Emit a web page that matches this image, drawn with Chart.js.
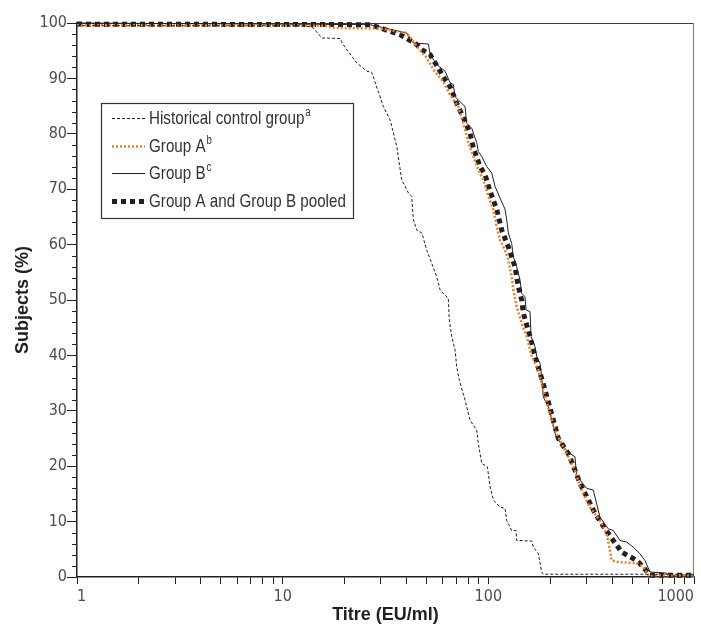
<!DOCTYPE html>
<html>
<head>
<meta charset="utf-8">
<script src="https://cdn.jsdelivr.net/npm/chart.js@4.4.0/dist/chart.umd.min.js"></script>
<style>
  body { margin: 0; background: #fff; }
  #wrap { width: 701px; height: 626px; }
</style>
</head>
<body>
<div id="wrap"><canvas id="chart"></canvas></div>
<script>
// Reverse cumulative distribution of titres (x = titre EU/ml, y = % of subjects)
const histTitre = [1, 13, 14.1, 15.5, 19.0, 19.7, 22.9, 25.7, 27.1, 28.2, 30.9, 33.3, 35.9, 37.9, 40.9, 42.4, 43.2, 44.9, 47.5, 50.2, 53.1, 56.1, 58.3, 61.6, 63.9, 64.6, 66.4, 68.9, 70.2, 72.3, 77.1, 81.5, 87.8, 89.4, 92.9, 98.9, 102, 105.8, 114, 120.5, 122.8, 129.9, 136.3, 137.4, 162.5, 165.5, 175, 181.7, 185, 1000];
const histPct = [99.5, 99.5, 99.1, 97.3, 97.2, 96.1, 92.8, 91.3, 91.1, 89.2, 84.9, 82.5, 77.7, 71.7, 69.3, 68.7, 64.5, 62.6, 62.1, 59.0, 56.6, 54.2, 51.8, 50.9, 50.3, 46.4, 43.4, 41.0, 37.9, 35.5, 31.9, 28.3, 26.5, 24.1, 20.5, 19.9, 16.3, 13.9, 12.6, 12.4, 10.2, 8.4, 8.4, 6.6, 6.5, 5.4, 4.2, 0.9, 0.5, 0.5];

const groupATitre = [1, 16, 18, 30, 40.1, 44.9, 50.2, 54.0, 60.4, 65.2, 71.5, 75.6, 80.0, 84.6, 89.4, 94.6, 100, 105.8, 109.9, 114, 120.5, 125.1, 129.9, 132.3, 137.4, 145.3, 153.7, 162.5, 175, 185, 195.7, 211, 231.4, 249.5, 263.8, 279, 312, 349, 376, 390.4, 397.9, 428.2, 526, 566.3, 599, 1000];
const groupAPct = [99.6, 99.5, 99.1, 99.0, 98.2, 95.8, 93.7, 91.6, 89.4, 87.0, 84.9, 81.9, 78.4, 75.9, 73.5, 71.7, 68.7, 66.3, 63.2, 60.8, 59.0, 57.2, 54.2, 51.8, 48.8, 45.8, 43.4, 39.8, 37.4, 33.7, 30.7, 26.5, 23.5, 21.1, 19.3, 16.3, 12.6, 10.2, 7.8, 4.8, 3.0, 2.7, 2.5, 1.8, 0.3, 0.3];

const groupBTitre = [1, 26.6, 40.1, 43.2, 51.1, 52.1, 56.1, 61.6, 65.2, 67.6, 68.9, 71.5, 77.1, 78.5, 83.1, 87.8, 89.4, 92.9, 98.2, 103.9, 107.8, 114, 120.5, 122.8, 125.1, 129.9, 132.3, 137.4, 142.6, 145.3, 150.8, 152.5, 159.5, 161.3, 168.6, 171.9, 178.3, 181.7, 185, 195.7, 211, 215, 231.4, 249.5, 263.8, 268.9, 279, 300.8, 323.7, 349, 382.9, 405, 436.4, 470.6, 506.5, 545.9, 577.4, 610.6, 736, 749, 1000];
const groupBPct = [100, 99.7, 98.2, 96.4, 96.2, 94.3, 92.5, 91.3, 89.2, 88.9, 86.7, 86.1, 84.9, 81.9, 81.0, 78.4, 76.8, 75.9, 74.1, 72.9, 70.5, 68.4, 66.4, 64.5, 62.1, 60.2, 57.8, 56.0, 53.6, 51.2, 50.6, 48.2, 47.9, 43.4, 41.6, 39.8, 38.6, 36.1, 32.5, 30.7, 25.9, 25.3, 23.5, 22.3, 21.7, 18.1, 17.5, 16.0, 15.7, 10.8, 8.7, 8.4, 6.6, 6.3, 5.4, 4.2, 3.0, 0.9, 0.7, 0.3, 0.3];

const pooledTitre = [1, 26.6, 33.3, 37.2, 40.9, 44.0, 47.5, 52.1, 55.1, 58.3, 61.6, 65.2, 70.2, 77.1, 81.5, 84.6, 91.1, 96.4, 102, 109.9, 116.2, 125.1, 134.8, 139.9, 145.3, 148.0, 159.5, 168.6, 178.3, 185, 195.7, 207, 218.9, 244.7, 263.8, 279, 300.8, 329.9, 369, 405, 444.8, 526, 566.3, 610.6, 1000];
const pooledPct = [99.8, 99.7, 98.5, 97.9, 97.0, 96.4, 95.2, 94.3, 92.8, 91.3, 89.8, 88.5, 85.5, 82.2, 80.1, 77.4, 74.1, 72.6, 69.6, 66.3, 62.6, 59.6, 56.0, 52.4, 50.0, 47.6, 43.4, 39.8, 36.8, 34.9, 31.6, 28.3, 25.0, 22.3, 19.3, 16.9, 14.5, 11.5, 8.7, 6.6, 4.5, 3.0, 1.8, 0.3, 0.3];

const seriesLabels = ["Historical control group", "Group A", "Group B", "Group A and Group B pooled"];
const seriesNotes = ["a", "b", "c", ""];
const xTickLabels = [1, 10, 100, 1000];
const yTickStep = 10;
const yMinorStep = 2;

const LEGENDFONT = "'Liberation Sans', Arial, sans-serif";
const TICKFONT = "'DejaVu Sans Condensed', 'DejaVu Sans', sans-serif";
const BOLDFONT = "'Liberation Sans', Arial, sans-serif";

function zip(xs, ys) {
  return xs.map((x, i) => ({ x: x, y: ys[i] }));
}

// log axis ticks 1..9, 10..90, 100..900, 1000
const xTicks = [];
for (let d = 1; d < 1000; d *= 10) {
  for (let k = 1; k <= 9; k++) xTicks.push(k * d);
}
xTicks.push(1000);

// top/right frame lines and the short minor ticks on the y axis
const frame = {
  id: "frame",
  beforeDatasetsDraw(chart) {
    const { ctx, chartArea: a, scales } = chart;
    ctx.save();
    ctx.lineWidth = 1.2;
    ctx.strokeStyle = "#3a3a3a";
    ctx.beginPath();
    ctx.moveTo(a.left, a.top + 0.5);
    ctx.lineTo(a.right, a.top + 0.5);
    ctx.stroke();
    ctx.strokeStyle = "#8a8a8a";
    ctx.beginPath();
    ctx.moveTo(a.right - 0.5, a.top);
    ctx.lineTo(a.right - 0.5, a.bottom);
    ctx.stroke();

    ctx.strokeStyle = "#231f20";
    ctx.lineWidth = 1;
    for (let v = 0; v <= 100; v += yMinorStep) {
      if (v % yTickStep === 0) continue;
      const y = Math.round(scales.y.getPixelForValue(v)) + 0.5;
      ctx.beginPath();
      ctx.moveTo(a.left - 5, y);
      ctx.lineTo(a.left, y);
      ctx.stroke();
    }
    ctx.restore();
  }
};

// boxed legend inside the plot, condensed text with superscript notes
const boxLegend = {
  id: "boxLegend",
  afterDraw(chart) {
    const { ctx, chartArea: a } = chart;
    const x0 = a.left + 24, y0 = a.top + 80, w = 252, h = 115;
    ctx.save();
    ctx.fillStyle = "#fff";
    ctx.fillRect(x0, y0, w, h);
    ctx.strokeStyle = "#333";
    ctx.lineWidth = 1.2;
    ctx.strokeRect(x0 + 0.5, y0 + 0.5, w, h);
    chart.data.datasets.forEach((ds, i) => {
      const y = Math.round(y0 + 15 + i * 27.7) + 0.5;
      ctx.strokeStyle = ds.borderColor;
      ctx.lineWidth = ds.borderWidth;
      ctx.lineCap = "butt";
      ctx.setLineDash(ds.borderDash || []);
      ctx.beginPath();
      ctx.moveTo(x0 + 11, y);
      ctx.lineTo(x0 + 44, y);
      ctx.stroke();
      ctx.setLineDash([]);

      ctx.save();
      ctx.translate(x0 + 48, y);
      ctx.scale(0.8, 1);
      ctx.fillStyle = "#333";
      ctx.textAlign = "left";
      ctx.textBaseline = "middle";
      ctx.font = "19px " + LEGENDFONT;
      ctx.fillText(ds.label, 0, 0);
      if (seriesNotes[i]) {
        const tw = ctx.measureText(ds.label).width;
        ctx.font = "12px " + LEGENDFONT;
        ctx.fillText(seriesNotes[i], tw + 1, -6);
      }
      ctx.restore();
    });
    ctx.restore();
  }
};

const ctx = document.getElementById("chart").getContext("2d");
new Chart(ctx, {
  type: "line",
  data: {
    datasets: [
      {
        label: seriesLabels[0],
        data: zip(histTitre, histPct),
        borderColor: "#231f20",
        borderWidth: 1,
        borderDash: [3, 2],
      },
      {
        label: seriesLabels[1],
        data: zip(groupATitre, groupAPct),
        borderColor: "#ee7d2b",
        borderWidth: 2.5,
        borderDash: [2, 2],
      },
      {
        label: seriesLabels[2],
        data: zip(groupBTitre, groupBPct),
        borderColor: "#231f20",
        borderWidth: 1,
      },
      {
        label: seriesLabels[3],
        data: zip(pooledTitre, pooledPct),
        borderColor: "#231f20",
        borderWidth: 5,
        borderDash: [5, 4],
      },
    ],
  },
  options: {
    responsive: true,
    maintainAspectRatio: false,
    animation: false,
    layout: { padding: { top: 23, right: 7, left: 0, bottom: 0 } },
    elements: {
      point: { radius: 0 },
      line: { tension: 0, fill: false, borderCapStyle: "butt" },
    },
    datasets: { line: { clip: 6 } },
    plugins: {
      legend: { display: false },
      tooltip: { enabled: false },
    },
    scales: {
      x: {
        type: "logarithmic",
        min: 1,
        max: 1000,
        afterBuildTicks(scale) {
          scale.ticks = xTicks.map((v) => ({ value: v }));
        },
        afterFit(scale) {
          scale.height = 49;
          scale.paddingLeft = 0;
          scale.paddingRight = 0;
        },
        grid: { drawOnChartArea: false, drawTicks: true, tickLength: 7, tickColor: "#231f20" },
        border: { color: "#231f20", width: 1.5 },
        ticks: {
          autoSkip: false,
          maxRotation: 0,
          align: "inner",
          padding: 3,
          color: "#4d4d4d",
          font: { family: TICKFONT, size: 16 },
          callback: (v) => (xTickLabels.includes(v) ? String(v) : ""),
        },
        title: {
          display: true,
          text: "Titre (EU/ml)",
          color: "#231f20",
          font: { family: BOLDFONT, size: 18, weight: "bold" },
          padding: { top: 0, bottom: 0 },
        },
      },
      y: {
        min: 0,
        max: 100,
        afterFit(scale) {
          scale.width = 77;
        },
        grid: { drawOnChartArea: false, drawTicks: true, tickLength: 10, tickColor: "#231f20" },
        border: { color: "#231f20", width: 1.5 },
        ticks: {
          stepSize: yTickStep,
          padding: 0,
          color: "#4d4d4d",
          font: { family: TICKFONT, size: 16 },
        },
        title: {
          display: true,
          text: "Subjects (%)",
          color: "#231f20",
          font: { family: BOLDFONT, size: 18, weight: "bold" },
          padding: { top: 12, bottom: 0 },
        },
      },
    },
  },
  plugins: [frame, boxLegend],
});
</script>
</body>
</html>
